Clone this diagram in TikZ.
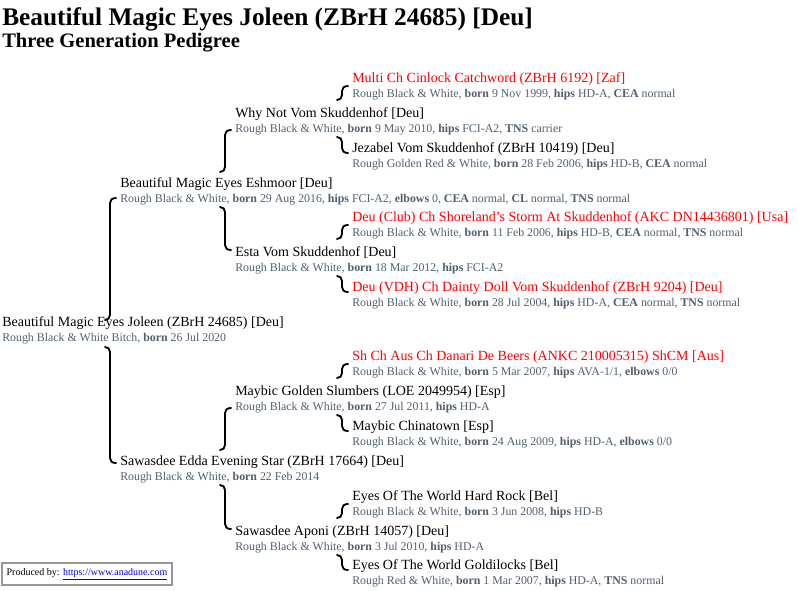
\documentclass[tikz,border=0pt]{standalone}
\usepackage{fontspec}
\setmainfont{Liberation Serif}
\usetikzlibrary{calc}
\definecolor{slategrey}{RGB}{80,96,112}
\definecolor{champred}{RGB}{255,0,0}
\definecolor{linkblue}{RGB}{0,0,238}
\definecolor{framegrey}{RGB}{150,150,150}

\begin{document}
\begin{tikzpicture}[x=0.75pt, y=-0.75pt,
    dog/.style={anchor=west, inner sep=0pt, font=\fontsize{10.5}{12}\selectfont, text height=7.4pt, text depth=2.1pt},
    champ/.style={dog, text=champred},
    info/.style={anchor=west, inner sep=0pt, font=\fontsize{8.9}{10}\selectfont, text=slategrey, text height=6.4pt, text depth=1.8pt},
    halfbrace/.style={line width=1.4pt, line cap=round}]
    \useasboundingbox (0,0) rectangle (799,590);

    \node[anchor=base west, inner sep=0pt, font=\bfseries\fontsize{19}{21}\selectfont] (title) at (2,25) {Beautiful Magic Eyes Joleen (ZBrH 24685) [Deu]};
    \node[anchor=base west, inner sep=0pt, font=\bfseries\fontsize{15.4}{17}\selectfont] (subtitle) at (2,47) {Three Generation Pedigree};

    % dog
    \node[dog]  (j)   at (2,323) {Beautiful Magic Eyes Joleen (ZBrH 24685) [Deu]};
    \node[info] (j-i) at (2,338) {Rough Black \& White Bitch, \textbf{born} 26 Jul 2020};

    % parents
    \node[dog]  (s)   at (120,184) {Beautiful Magic Eyes Eshmoor [Deu]};
    \node[info] (s-i) at (120,199) {Rough Black \& White, \textbf{born} 29 Aug 2016, \textbf{hips} FCI-A2, \textbf{elbows} 0, \textbf{CEA} normal, \textbf{CL} normal, \textbf{TNS} normal};
    \node[dog]  (d)   at (120,462) {Sawasdee Edda Evening Star (ZBrH 17664) [Deu]};
    \node[info] (d-i) at (120,477) {Rough Black \& White, \textbf{born} 22 Feb 2014};

    % grandparents
    \node[dog]  (ss)   at (235,114) {Why Not Vom Skuddenhof [Deu]};
    \node[info] (ss-i) at (235,129) {Rough Black \& White, \textbf{born} 9 May 2010, \textbf{hips} FCI-A2, \textbf{TNS} carrier};
    \node[dog]  (sd)   at (235,253) {Esta Vom Skuddenhof [Deu]};
    \node[info] (sd-i) at (235,268) {Rough Black \& White, \textbf{born} 18 Mar 2012, \textbf{hips} FCI-A2};
    \node[dog]  (ds)   at (235,392) {Maybic Golden Slumbers (LOE 2049954) [Esp]};
    \node[info] (ds-i) at (235,407) {Rough Black \& White, \textbf{born} 27 Jul 2011, \textbf{hips} HD-A};
    \node[dog]  (dd)   at (235,532) {Sawasdee Aponi (ZBrH 14057) [Deu]};
    \node[info] (dd-i) at (235,547) {Rough Black \& White, \textbf{born} 3 Jul 2010, \textbf{hips} HD-A};

    % great-grandparents
    \node[champ] (sss)   at (352,79) {Multi Ch Cinlock Catchword (ZBrH 6192) [Zaf]};
    \node[info]  (sss-i) at (352,94) {Rough Black \& White, \textbf{born} 9 Nov 1999, \textbf{hips} HD-A, \textbf{CEA} normal};
    \node[dog]   (ssd)   at (352,149) {Jezabel Vom Skuddenhof (ZBrH 10419) [Deu]};
    \node[info]  (ssd-i) at (352,164) {Rough Golden Red \& White, \textbf{born} 28 Feb 2006, \textbf{hips} HD-B, \textbf{CEA} normal};
    \node[champ] (sds)   at (352,218) {Deu (Club) Ch Shoreland's Storm At Skuddenhof (AKC DN14436801) [Usa]};
    \node[info]  (sds-i) at (352,233) {Rough Black \& White, \textbf{born} 11 Feb 2006, \textbf{hips} HD-B, \textbf{CEA} normal, \textbf{TNS} normal};
    \node[champ] (sdd)   at (352,288) {Deu (VDH) Ch Dainty Doll Vom Skuddenhof (ZBrH 9204) [Deu]};
    \node[info]  (sdd-i) at (352,303) {Rough Black \& White, \textbf{born} 28 Jul 2004, \textbf{hips} HD-A, \textbf{CEA} normal, \textbf{TNS} normal};
    \node[champ] (dss)   at (352,357) {Sh Ch Aus Ch Danari De Beers (ANKC 210005315) ShCM [Aus]};
    \node[info]  (dss-i) at (352,372) {Rough Black \& White, \textbf{born} 5 Mar 2007, \textbf{hips} AVA-1/1, \textbf{elbows} 0/0};
    \node[dog]   (dsd)   at (352,427) {Maybic Chinatown [Esp]};
    \node[info]  (dsd-i) at (352,442) {Rough Black \& White, \textbf{born} 24 Aug 2009, \textbf{hips} HD-A, \textbf{elbows} 0/0};
    \node[dog]   (dds)   at (352,497) {Eyes Of The World Hard Rock [Bel]};
    \node[info]  (dds-i) at (352,512) {Rough Black \& White, \textbf{born} 3 Jun 2008, \textbf{hips} HD-B};
    \node[dog]   (ddd)   at (352,566) {Eyes Of The World Goldilocks [Bel]};
    \node[info]  (ddd-i) at (352,581) {Rough Red \& White, \textbf{born} 1 Mar 2007, \textbf{hips} HD-A, \textbf{TNS} normal};

    % sire halves
    \foreach \up/\kid/\a/\b in {s/j/-1/-3, ss/s/1/-12, ds/d/1/-12, sss/ss/-8/-14, sds/sd/-8/-14, dss/ds/-8/-14, dds/dd/-8/-14}
      \draw[halfbrace] ($(\up-i.west)+(-4,\a)$) .. controls +(-4,0) and +(0,-3) .. ($(\up-i.west)+(-10,\a+5)$)
        -- ($(\up-i.west |- \kid.west)+(-10,\b-5)$) .. controls +(0,3) and +(3,0) .. ($(\up-i.west |- \kid.west)+(-15,\b)$);
    % dam halves
    \foreach \kid/\dn/\a/\b in {j/d/9/1, s/sd/8/-3, d/dd/8/-3, ss/ssd/8/4, sd/sdd/8/4, ds/dsd/8/4, dd/ddd/8/4}
      \draw[halfbrace] ($(\dn.west |- \kid-i.west)+(-15,\a)$) .. controls +(3,0) and +(0,-3) .. ($(\dn.west |- \kid-i.west)+(-10,\a+5)$)
        -- ($(\dn.west)+(-10,\b-5)$) .. controls +(0,3) and +(-4,0) .. ($(\dn.west)+(-4,\b)$);

    \node[draw=framegrey, line width=1.2pt, inner sep=0pt, minimum width=127.5pt, minimum height=16.5pt,
          font=\fontsize{7.5}{9}\selectfont] (credit) at (87,574)
          {Produced by: \textcolor{linkblue}{\underline{https://www.anadune.com}}};
\end{tikzpicture}
\end{document}
